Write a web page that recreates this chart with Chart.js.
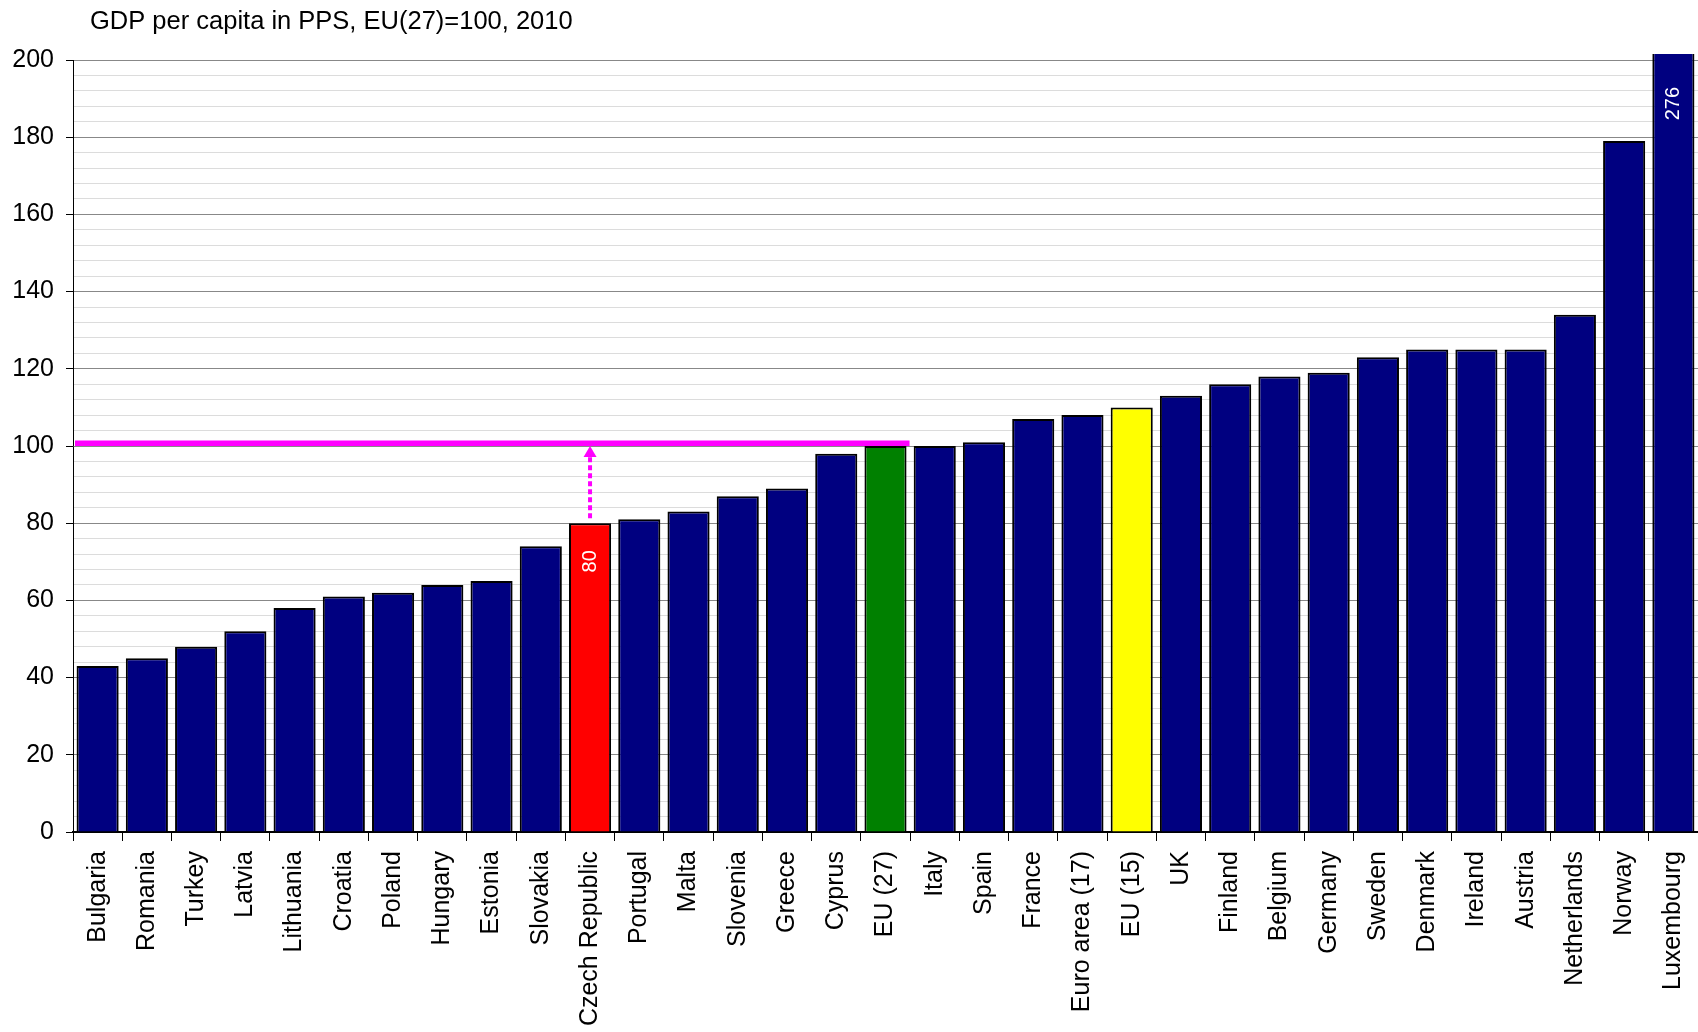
<!DOCTYPE html>
<html>
<head>
<meta charset="utf-8">
<script src="https://cdn.jsdelivr.net/npm/chart.js@4.4.0/dist/chart.umd.min.js"></script>
<style>
  html, body { margin: 0; padding: 0; background: #ffffff; }
  #wrap { width: 1698px; height: 1032px; position: relative; }
</style>
</head>
<body>
<div id="wrap"><canvas id="gdp"></canvas></div>
<script>
// GDP per capita in PPS, index EU(27) = 100, year 2010
const chartTitle = 'GDP per capita in PPS, EU(27)=100, 2010';

const countries = [
  'Bulgaria', 'Romania', 'Turkey', 'Latvia', 'Lithuania', 'Croatia', 'Poland',
  'Hungary', 'Estonia', 'Slovakia', 'Czech Republic', 'Portugal', 'Malta',
  'Slovenia', 'Greece', 'Cyprus', 'EU (27)', 'Italy', 'Spain', 'France',
  'Euro area (17)', 'EU (15)', 'UK', 'Finland', 'Belgium', 'Germany', 'Sweden',
  'Denmark', 'Ireland', 'Austria', 'Netherlands', 'Norway', 'Luxembourg'
];

const gdpIndex = [
  43, 45, 48, 52, 58, 61, 62,
  64, 65, 74, 80, 81, 83,
  87, 89, 98, 100, 100, 101, 107,
  108, 110, 113, 116, 118, 119, 123,
  125, 125, 125, 134, 179, 276
];

// bars with their own fill colour; all others use the default navy
const highlightNames = ['Czech Republic', 'EU (27)', 'EU (15)'];
const highlightFills = ['#ff0000', '#008000', '#ffff00'];
const defaultFill = '#000080';

// bars that carry their value as a label
const valueLabelled = ['Czech Republic', 'Luxembourg'];

// reference level line (EU average) and the arrow rising to it
const referenceName = 'EU (27)';
const arrowName = 'Czech Republic';

// y axis
const yMin = 0;
const yMax = 200;
const yMajorStep = 20;
const yMinorStep = 4;

const FONT = 'Arial, "Liberation Sans", sans-serif';
Chart.defaults.font.family = FONT;
Chart.defaults.color = '#000000';

const fills = countries.map(c => {
  const k = highlightNames.indexOf(c);
  return k >= 0 ? highlightFills[k] : defaultFill;
});

const titlePlugin = {
  id: 'leftTitle',
  afterDraw(chart) {
    const ctx = chart.ctx;
    ctx.save();
    ctx.font = '25.5px ' + FONT;
    ctx.fillStyle = '#000';
    ctx.textAlign = 'left';
    ctx.textBaseline = 'middle';
    ctx.fillText(chartTitle, 90, 22);
    ctx.restore();
  }
};

const markerPlugin = {
  id: 'referenceMarker',
  afterDatasetsDraw(chart) {
    const ctx = chart.ctx;
    const area = chart.chartArea;
    const y = chart.scales.y;
    const meta = chart.getDatasetMeta(0);
    const refIdx = countries.indexOf(referenceName);
    const arrIdx = countries.indexOf(arrowName);
    const refBar = meta.data[refIdx];
    const arrBar = meta.data[arrIdx];
    const lineW = 5.5;
    const refY = y.getPixelForValue(gdpIndex[refIdx]) - lineW / 2;

    ctx.save();
    ctx.strokeStyle = '#ff00ff';
    ctx.fillStyle = '#ff00ff';
    // horizontal reference line
    ctx.lineWidth = lineW;
    ctx.beginPath();
    ctx.moveTo(area.left + 2, refY);
    ctx.lineTo(refBar.x + refBar.width / 2 + 3, refY);
    ctx.stroke();

    // dotted arrow from the highlighted bar up to the line
    const headTip = refY + lineW / 2;
    const headBase = headTip + 11;
    const startY = y.getPixelForValue(gdpIndex[arrIdx]) - 5;
    ctx.lineWidth = 4;
    ctx.setLineDash([5, 3]);
    ctx.beginPath();
    ctx.moveTo(arrBar.x, startY);
    ctx.lineTo(arrBar.x, headBase);
    ctx.stroke();
    ctx.setLineDash([]);
    ctx.beginPath();
    ctx.moveTo(arrBar.x, headTip);
    ctx.lineTo(arrBar.x - 6.5, headBase);
    ctx.lineTo(arrBar.x + 6.5, headBase);
    ctx.closePath();
    ctx.fill();
    ctx.restore();
  }
};

const valueLabelPlugin = {
  id: 'valueLabels',
  afterDatasetsDraw(chart) {
    const ctx = chart.ctx;
    const area = chart.chartArea;
    const meta = chart.getDatasetMeta(0);
    ctx.save();
    ctx.font = '20px ' + FONT;
    ctx.fillStyle = '#ffffff';
    ctx.textAlign = 'right';
    ctx.textBaseline = 'middle';
    valueLabelled.forEach(name => {
      const i = countries.indexOf(name);
      const bar = meta.data[i];
      const top = Math.max(bar.y, area.top) + 27;
      ctx.save();
      ctx.translate(bar.x, top);
      ctx.rotate(-Math.PI / 2);
      ctx.fillText(String(gdpIndex[i]), 0, 0);
      ctx.restore();
    });
    ctx.restore();
  }
};

new Chart(document.getElementById('gdp'), {
  type: 'bar',
  data: {
    labels: countries,
    datasets: [{
      data: gdpIndex,
      backgroundColor: fills,
      borderColor: '#000000',
      borderWidth: 2,
      borderSkipped: 'bottom',
      categoryPercentage: 1,
      barPercentage: 0.855,
      clip: { left: 0, top: 6, right: 0, bottom: 0 }
    }]
  },
  options: {
    responsive: true,
    maintainAspectRatio: false,
    animation: false,
    layout: { padding: { top: 60, left: 0, right: 0, bottom: 0 } },
    plugins: {
      legend: { display: false },
      title: { display: false },
      tooltip: { enabled: false }
    },
    scales: {
      x: {
        grid: {
          offset: true,
          drawOnChartArea: false,
          drawTicks: true,
          tickLength: 9,
          tickColor: '#000000',
          tickWidth: 1
        },
        border: { display: true, color: '#000000', width: 2 },
        ticks: {
          autoSkip: false,
          minRotation: 90,
          maxRotation: 90,
          padding: 10,
          font: { size: 25 },
          color: '#000000'
        },
        afterFit(scale) {
          scale.height = 200;
          scale.paddingLeft = 0;
          scale.paddingRight = 0;
        }
      },
      y: {
        min: yMin,
        max: yMax,
        grid: {
          color: c => (Math.round(c.tick.value) % yMajorStep === 0) ? '#888888' : '#dcdcdc',
          lineWidth: 1,
          drawTicks: true,
          tickLength: 7,
          tickColor: c => (c.tick && Math.round(c.tick.value) % yMajorStep === 0) ? '#000000' : 'rgba(0,0,0,0)'
        },
        border: { display: true, color: '#000000', width: 1 },
        ticks: {
          stepSize: yMinorStep,
          autoSkip: false,
          padding: 12,
          font: { size: 25 },
          color: '#000000',
          callback: v => (Math.round(v) % yMajorStep === 0) ? String(Math.round(v)) : ''
        },
        afterFit(scale) {
          scale.width = 73;
          scale.paddingTop = 0;
          scale.paddingBottom = 0;
        }
      }
    }
  },
  plugins: [titlePlugin, markerPlugin, valueLabelPlugin]
});
</script>
</body>
</html>
